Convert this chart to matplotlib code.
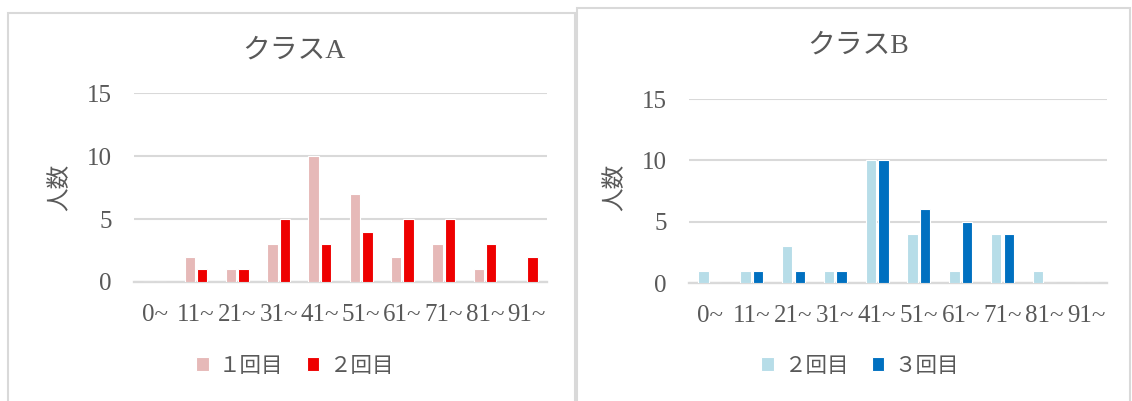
import numpy as np
import matplotlib
matplotlib.use("Agg")
import matplotlib.pyplot as plt
from matplotlib.patches import Rectangle

# ---- data ----
bins = ["0~", "11~", "21~", "31~", "41~", "51~", "61~", "71~", "81~", "91~"]
a_1st = [0, 2, 1, 3, 10, 7, 2, 3, 1, 0]
a_2nd = [0, 1, 1, 5, 3, 4, 5, 5, 3, 2]
b_2nd = [1, 1, 3, 1, 10, 4, 1, 4, 1, 0]
b_3rd = [0, 1, 1, 1, 10, 6, 5, 4, 0, 0]
yticks = [0, 5, 10, 15]

W, H = 1132, 401
FAM = ["Liberation Serif", "Noto Sans CJK JP"]
TXT = "#595959"
GRID = "#D9D9D9"

fig = plt.figure(figsize=(W / 100, H / 100), dpi=100)

def px_axes(x0, x1, ytop, ybot):
    return fig.add_axes([x0 / W, 1 - ybot / H, (x1 - x0) / W, (ybot - ytop) / H])

def panel(ax, s1, s2, c1, c2, lab1, lab2, title, tx, ty, ylx, legx):
    x = np.arange(len(bins))
    w, off = 0.25, 0.15
    h1 = ax.bar(x - off, s1, w, color=c1, edgecolor="white", linewidth=0.8, zorder=3)
    h2 = ax.bar(x + off, s2, w, color=c2, edgecolor="white", linewidth=0.8, zorder=3)
    ax.set_xlim(-0.5, len(bins) - 0.5)
    ax.set_ylim(0, 15)
    ax.set_yticks(yticks)
    ax.set_xticks(x)
    ax.set_xticklabels(bins)
    for sp in ax.spines.values():
        sp.set_visible(False)
    ax.grid(axis="y", color=GRID, lw=1.5, zorder=0)
    ax.set_axisbelow(True)
    ax.tick_params(axis="y", length=0, pad=16, labelsize=18, labelcolor=TXT)
    ax.tick_params(axis="x", length=0, pad=16, labelsize=18, labelcolor=TXT)
    for t in ax.get_xticklabels() + ax.get_yticklabels():
        t.set_family(FAM)
    ax.axhline(0, color=GRID, lw=1.7, zorder=1, clip_on=False)
    fig.text(tx / W, 1 - ty / H, title, family=FAM, fontsize=20, color=TXT, ha="center", va="center")
    fig.text(ylx / W, 1 - 187 / H, "人数", family=FAM, fontsize=17, color=TXT,
             rotation=90, ha="center", va="center")
    leg = ax.legend([h1, h2], [lab1, lab2], loc="center", ncol=2,
                    bbox_to_anchor=(legx / W, 1 - 367 / H), bbox_transform=fig.transFigure,
                    frameon=False, prop={"family": FAM, "size": 15.5},
                    handlelength=0.56, handleheight=0.56, handletextpad=0.47, columnspacing=1.1)
    for t in leg.get_texts():
        t.set_color(TXT)

axA = px_axes(134, 547, 93, 282)
panel(axA, a_1st, a_2nd, "#E6B9B8", "#EE0000", "１回目", "２回目", "クラスA", 294, 51, 60, 295)

axB = px_axes(689, 1107, 99, 283)
panel(axB, b_2nd, b_3rd, "#B7DDE8", "#0070C0", "２回目", "３回目", "クラスB", 858, 46, 615, 860)

# panel borders
for (x0, y0, x1, y1) in [(8, 13, 575, 405), (577, 8, 1130, 405)]:
    fig.patches.append(Rectangle((x0 / W, 1 - y1 / H), (x1 - x0) / W, (y1 - y0) / H,
                                 transform=fig.transFigure, fill=False,
                                 edgecolor=GRID, lw=1.5))

fig.savefig("out.png", dpi=100)
